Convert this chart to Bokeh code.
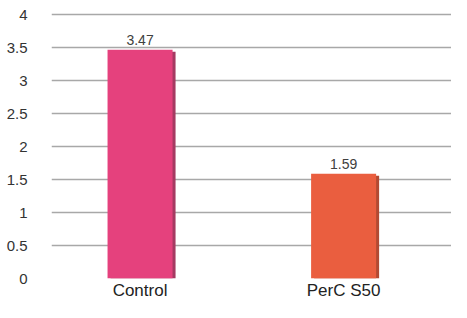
from bokeh.plotting import figure
from bokeh.models import Range1d, FixedTicker, ColumnDataSource, LabelSet
from bokeh.core.properties import value
from bokeh.embed import file_html
from bokeh.resources import INLINE

categories = ["Control", "PerC S50"]
values = [3.47, 1.59]
bar_colors = ["#E5417D", "#EA5E3F"]
shadow_colors = ["#A53A62", "#B24A33"]
labels = ["3.47", "1.59"]
y_ticks = [0, 0.5, 1, 1.5, 2, 2.5, 3, 3.5, 4]

xs = [i + 0.5 for i in range(len(categories))]
px = 203.5  # pixels per x unit (style)

p = figure(width=451, height=302, output_backend="svg", toolbar_location=None,
           x_range=Range1d(0.065, 2.03), y_range=Range1d(0, 4.05),
           min_border_left=51, min_border_right=0, min_border_top=11, min_border_bottom=0)
p.outline_line_color = None
p.background_fill_color = "white"
p.border_fill_color = "white"

shadow_src = ColumnDataSource(dict(x=[x + 3 / px for x in xs], top=[v - 0.03 for v in values],
                                   color=shadow_colors))
p.vbar(x="x", top="top", bottom=0, width=65 / px, fill_color="color", line_color=None, source=shadow_src)
src = ColumnDataSource(dict(x=xs, top=values, color=bar_colors, label=labels))
p.vbar(x="x", top="top", bottom=0, width=65 / px, fill_color="color", line_color=None, source=src)

lab = LabelSet(x="x", y="top", text="label", source=src, text_align="center", text_baseline="bottom",
               y_offset=5, text_font=value("Liberation Sans"), text_font_size="14px", text_color="#404040")
p.add_layout(lab)

p.xgrid.grid_line_color = None
p.ygrid.grid_line_color = "#A8A8A8"
p.ygrid.grid_line_width = 1.5
p.yaxis.ticker = FixedTicker(ticks=y_ticks)
p.yaxis.axis_line_color = None
p.yaxis.major_tick_line_color = None
p.yaxis.minor_tick_line_color = None
p.yaxis.major_label_text_font = "Liberation Sans"
p.yaxis.major_label_text_font_size = "15px"
p.yaxis.major_label_text_color = "#333333"
p.yaxis.major_label_standoff = 18

p.xaxis.ticker = FixedTicker(ticks=xs)
p.xaxis.major_label_overrides = {x: c for x, c in zip(xs, categories)}
p.xaxis.axis_line_color = None
p.xaxis.major_tick_line_color = None
p.xaxis.minor_tick_line_color = None
p.xaxis.major_tick_out = 0
p.xaxis.major_tick_in = 0
p.xaxis.major_label_text_font = "Liberation Sans"
p.xaxis.major_label_text_font_size = "17px"
p.xaxis.major_label_text_color = "#222222"
p.xaxis.major_label_standoff = 2

open("out.html", "w").write(file_html(p, INLINE))
